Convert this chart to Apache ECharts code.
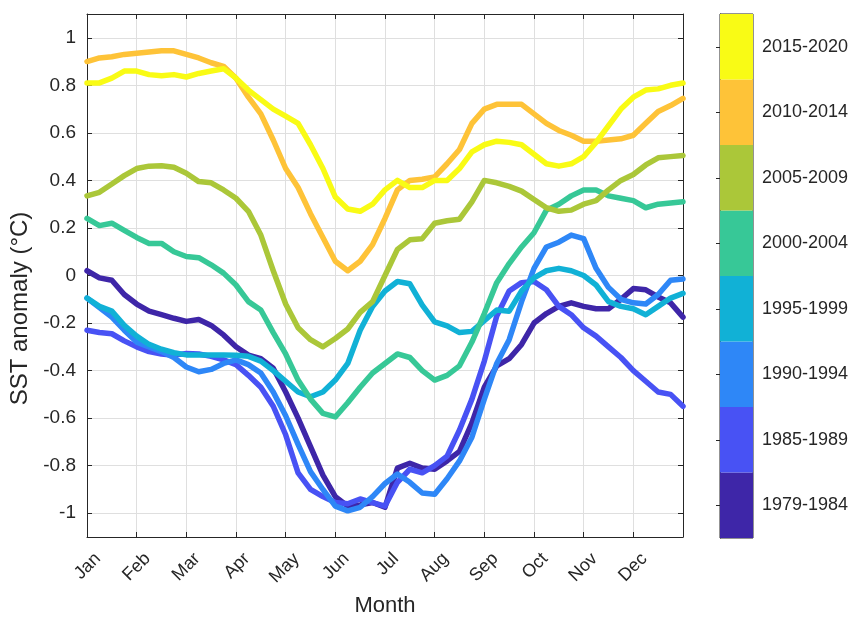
<!DOCTYPE html>
<html>
<head>
<meta charset="utf-8">
<script src="https://cdn.jsdelivr.net/npm/echarts@6/dist/echarts.min.js"></script>
<style>
  html, body { margin: 0; padding: 0; background: #fff; }
  #chart { width: 858px; height: 622px; }
</style>
</head>
<body>
<div id="chart"></div>
<script>
// quarter-month samples, Jan 1 .. Dec 31 (49 points each)
const months = ['Jan', 'Feb', 'Mar', 'Apr', 'May', 'Jun', 'Jul', 'Aug', 'Sep', 'Oct', 'Nov', 'Dec'];
const yTicks = [-1, -0.8, -0.6, -0.4, -0.2, 0, 0.2, 0.4, 0.6, 0.8, 1];
const periods = ['1979-1984', '1985-1989', '1990-1994', '1995-1999', '2000-2004', '2005-2009', '2010-2014', '2015-2020'];
const colors = ['#3e26a8', '#4852f4', '#2e87f7', '#11b1d6', '#37c897', '#abc739', '#fec338', '#f9fb15'];

const s1979 = [0.02, -0.01, -0.02, -0.08, -0.12, -0.15, -0.165, -0.18, -0.193, -0.185, -0.21, -0.25,
  -0.30, -0.335, -0.35, -0.39, -0.49, -0.60, -0.72, -0.84, -0.93, -0.97, -0.965, -0.955,
  -0.975, -0.81, -0.79, -0.81, -0.815, -0.78, -0.74, -0.62, -0.47, -0.38, -0.35, -0.29,
  -0.20, -0.16, -0.13, -0.115, -0.13, -0.14, -0.14, -0.10, -0.055, -0.06, -0.09, -0.115, -0.175];
const s1985 = [-0.23, -0.24, -0.245, -0.275, -0.30, -0.32, -0.33, -0.335, -0.328, -0.33, -0.34, -0.355,
  -0.375, -0.42, -0.47, -0.55, -0.67, -0.83, -0.90, -0.93, -0.955, -0.96, -0.94, -0.955,
  -0.97, -0.87, -0.815, -0.83, -0.80, -0.76, -0.65, -0.52, -0.36, -0.17, -0.065, -0.03,
  -0.025, -0.06, -0.13, -0.165, -0.22, -0.255, -0.30, -0.345, -0.40, -0.445, -0.49, -0.50, -0.55];
const s1990 = [-0.095, -0.135, -0.175, -0.23, -0.28, -0.30, -0.32, -0.345, -0.385, -0.405, -0.395, -0.37,
  -0.355, -0.375, -0.41, -0.49, -0.59, -0.71, -0.825, -0.90, -0.97, -0.99, -0.975, -0.93,
  -0.875, -0.835, -0.87, -0.915, -0.92, -0.855, -0.78, -0.68, -0.52, -0.37, -0.27, -0.11,
  0.03, 0.12, 0.14, 0.17, 0.155, 0.03, -0.05, -0.10, -0.115, -0.12, -0.08, -0.02, -0.015];
const s1995 = [-0.095, -0.13, -0.15, -0.21, -0.255, -0.29, -0.31, -0.325, -0.334, -0.334, -0.334, -0.334,
  -0.335, -0.34, -0.36, -0.40, -0.445, -0.49, -0.51, -0.49, -0.44, -0.37, -0.23, -0.13,
  -0.065, -0.025, -0.035, -0.125, -0.195, -0.212, -0.24, -0.235, -0.19, -0.145, -0.15, -0.065,
  -0.01, 0.02, 0.03, 0.02, 0.0, -0.04, -0.11, -0.13, -0.14, -0.165, -0.13, -0.095, -0.075];
const s2000 = [0.24, 0.21, 0.22, 0.19, 0.16, 0.135, 0.135, 0.10, 0.08, 0.075, 0.045, 0.01,
  -0.04, -0.11, -0.145, -0.24, -0.33, -0.44, -0.52, -0.58, -0.595, -0.535, -0.47, -0.41,
  -0.37, -0.33, -0.345, -0.40, -0.44, -0.42, -0.38, -0.28, -0.16, -0.03, 0.05, 0.12,
  0.18, 0.275, 0.30, 0.335, 0.36, 0.36, 0.335, 0.325, 0.315, 0.285, 0.30, 0.305, 0.31];
const s2005 = [0.335, 0.35, 0.385, 0.42, 0.45, 0.46, 0.462, 0.455, 0.43, 0.395, 0.39, 0.36,
  0.325, 0.27, 0.17, 0.02, -0.12, -0.22, -0.27, -0.30, -0.265, -0.225, -0.155, -0.11,
  0.0, 0.11, 0.15, 0.155, 0.22, 0.23, 0.237, 0.31, 0.40, 0.39, 0.375, 0.355,
  0.32, 0.285, 0.27, 0.275, 0.30, 0.315, 0.36, 0.40, 0.425, 0.465, 0.495, 0.50, 0.505];
const s2010 = [0.90, 0.915, 0.92, 0.93, 0.935, 0.94, 0.945, 0.945, 0.93, 0.915, 0.895, 0.88,
  0.83, 0.75, 0.68, 0.57, 0.45, 0.37, 0.26, 0.16, 0.06, 0.02, 0.06, 0.13,
  0.24, 0.36, 0.40, 0.405, 0.415, 0.47, 0.53, 0.64, 0.70, 0.72, 0.72, 0.72,
  0.68, 0.64, 0.61, 0.59, 0.565, 0.565, 0.57, 0.575, 0.59, 0.64, 0.69, 0.715, 0.745];
const s2015 = [0.81, 0.81, 0.83, 0.86, 0.86, 0.845, 0.84, 0.845, 0.835, 0.85, 0.86, 0.87,
  0.83, 0.78, 0.74, 0.70, 0.67, 0.64, 0.55, 0.45, 0.33, 0.28, 0.27, 0.30,
  0.36, 0.40, 0.37, 0.37, 0.40, 0.40, 0.45, 0.52, 0.55, 0.565, 0.56, 0.55,
  0.51, 0.47, 0.46, 0.47, 0.50, 0.56, 0.63, 0.70, 0.75, 0.78, 0.785, 0.80, 0.81];

const allSeries = [s1979, s1985, s1990, s1995, s2000, s2005, s2010, s2015];

var myChart = echarts.init(document.getElementById('chart'));

const font = "'Liberation Sans', Arial, sans-serif";
const axisColor = '#262626';
const gridColor = '#dfdfdf';

const step = 12 / (s1979.length - 1);

const lineSeries = allSeries.map(function (vals, k) {
    return {
        type: 'line',
        name: periods[k],
        xAxisIndex: 0,
        yAxisIndex: 0,
        data: vals.map((v, i) => [i * step, v]),
        showSymbol: false,
        smooth: false,
        lineStyle: { width: 5.5, color: colors[k], cap: 'round', join: 'round' },
        z: 2 + k
    };
});

const option = {
    animation: false,
    textStyle: { fontFamily: font },
    grid: [
        { left: 87, top: 14, width: 596, height: 523, containLabel: false },
        { left: 720, top: 14, width: 33, height: 524, containLabel: false,
          show: true, borderColor: axisColor, borderWidth: 1 }
    ],
    xAxis: [
        {
            type: 'value', gridIndex: 0, min: 0, max: 12, interval: 1,
            name: 'Month', nameLocation: 'middle', nameGap: 58,
            nameTextStyle: { fontSize: 22, color: axisColor, fontFamily: font },
            axisLine: { show: true, onZero: false, lineStyle: { color: axisColor, width: 1 } },
            axisTick: { show: true, inside: true, length: 5, lineStyle: { color: axisColor } },
            splitLine: { show: true, lineStyle: { color: gridColor, width: 1 } },
            axisLabel: {
                customValues: months.map((m, i) => i + 0.22),
                rotate: 45, margin: 19, fontSize: 18, color: axisColor, fontFamily: font,
                formatter: function (v) { return months[Math.floor(v + 0.001)]; }
            }
        },
        {
            type: 'value', gridIndex: 0, min: 0, max: 12, interval: 1, position: 'top',
            axisLine: { show: true, onZero: false, lineStyle: { color: axisColor, width: 1 } },
            axisTick: { show: true, inside: true, length: 5, lineStyle: { color: axisColor } },
            axisLabel: { show: false },
            splitLine: { show: false }
        },
        {
            type: 'value', gridIndex: 1, min: 0, max: 1, show: false
        }
    ],
    yAxis: [
        {
            type: 'value', gridIndex: 0, min: -1.1, max: 1.1,
            name: 'SST anomaly (°C)', nameLocation: 'middle', nameGap: 52, nameRotate: 90,
            nameTextStyle: { fontSize: 24, color: axisColor, fontFamily: font, padding: [0, 66, 0, 0] },
            axisLine: { show: true, onZero: false, lineStyle: { color: axisColor, width: 1 } },
            axisTick: { show: true, inside: true, length: 5, customValues: yTicks, lineStyle: { color: axisColor } },
            splitLine: { show: true, lineStyle: { color: gridColor, width: 1 } },
            axisLabel: {
                customValues: yTicks, margin: 11, fontSize: 19, color: axisColor, fontFamily: font,
                formatter: function (v) { return String(+(+v).toFixed(1)); }
            }
        },
        {
            type: 'value', gridIndex: 0, min: -1.1, max: 1.1, position: 'right',
            axisLine: { show: true, onZero: false, lineStyle: { color: axisColor, width: 1 } },
            axisTick: { show: true, inside: true, length: 5, customValues: yTicks, lineStyle: { color: axisColor } },
            axisLabel: { show: false },
            splitLine: { show: false }
        },
        {
            type: 'category', gridIndex: 1, position: 'right', data: periods,
            axisLine: { show: true, lineStyle: { color: axisColor, width: 1 } },
            axisTick: { show: true, inside: true, alignWithLabel: true, length: 4, lineStyle: { color: axisColor } },
            axisLabel: { fontSize: 18, color: axisColor, margin: 9, fontFamily: font },
            splitLine: { show: false }
        }
    ],
    series: lineSeries.concat([{
        type: 'bar',
        xAxisIndex: 2,
        yAxisIndex: 2,
        barWidth: '100%',
        silent: true,
        z: 1,
        data: periods.map((p, i) => ({ value: 1, itemStyle: { color: colors[i] } }))
    }])
};

myChart.setOption(option);

window.addEventListener('resize', function () {
    myChart.resize();
});
</script>
</body>
</html>
